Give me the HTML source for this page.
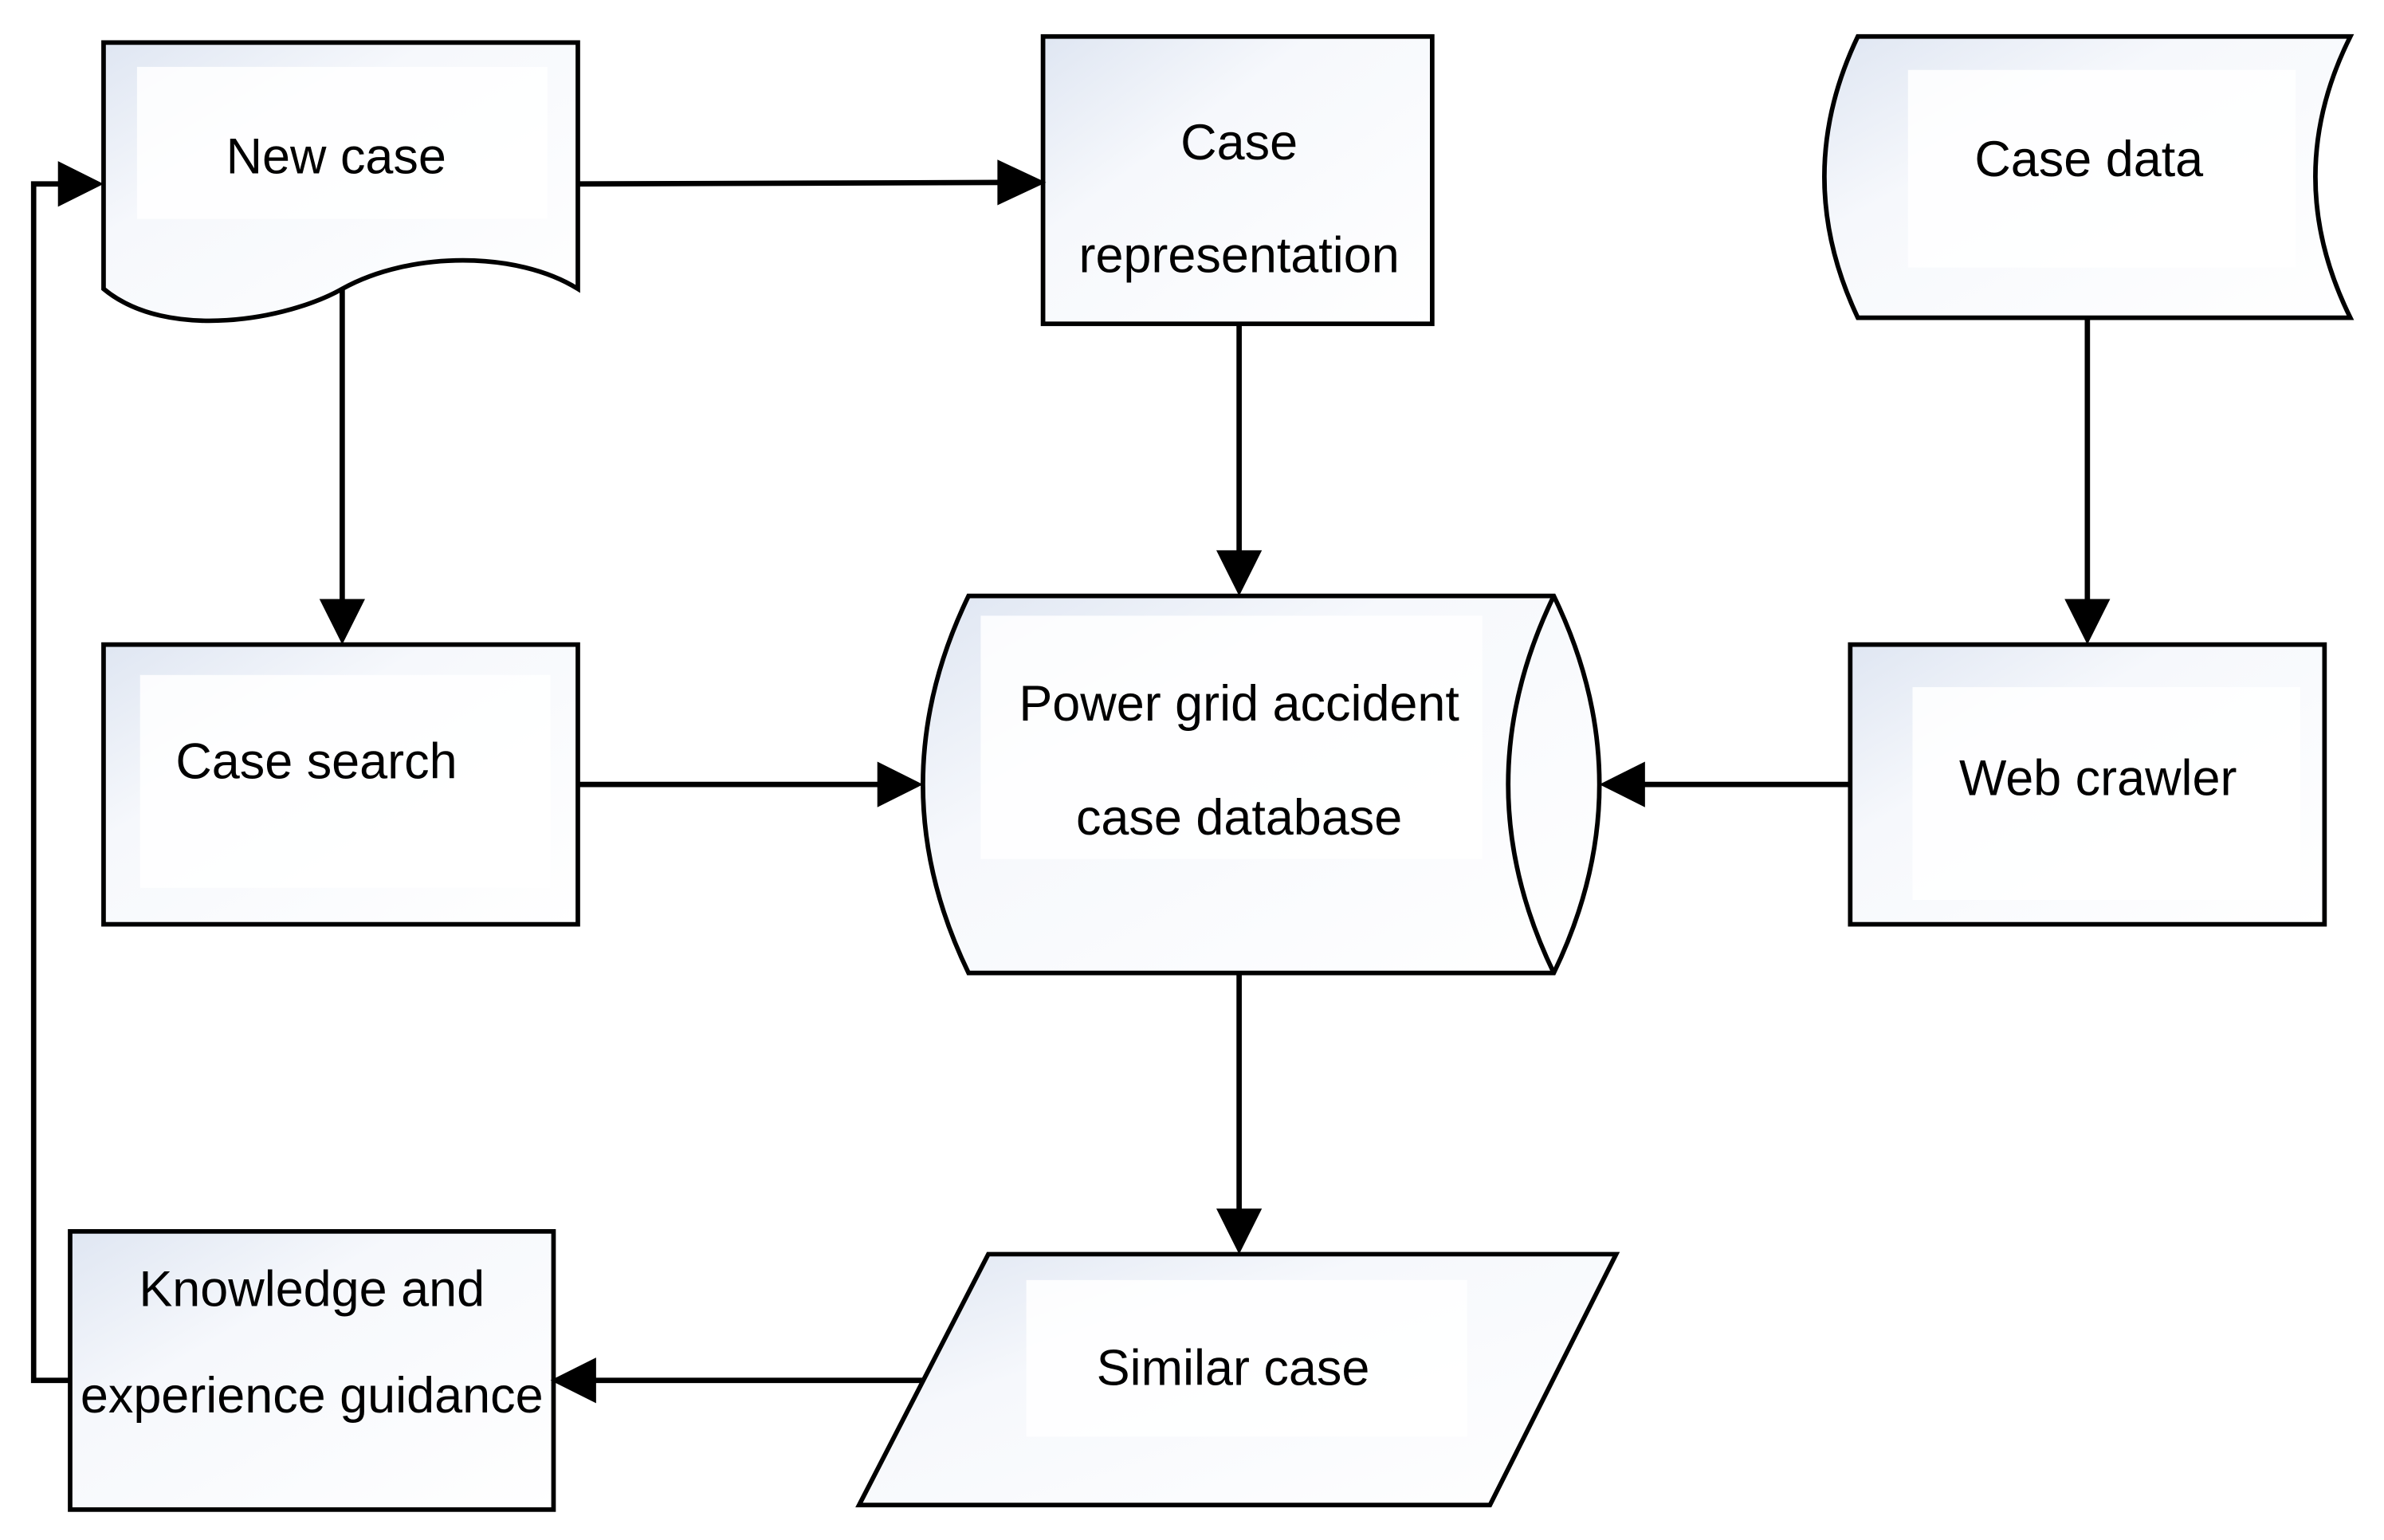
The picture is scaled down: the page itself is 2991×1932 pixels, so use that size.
<!DOCTYPE html>
<html><head><meta charset="utf-8"><style>html,body{margin:0;padding:0;background:#fff}svg{display:block}</style></head>
<body>
<svg width="2991" height="1932" viewBox="0 0 1568 1013" xmlns="http://www.w3.org/2000/svg">
<defs>
<linearGradient id="g" x1="0" y1="0" x2="1" y2="1">
<stop offset="0" stop-color="#dfe6f2"/><stop offset="0.35" stop-color="#f6f8fc"/><stop offset="1" stop-color="#ffffff"/>
</linearGradient>
</defs>
<g stroke="#000" stroke-width="3" fill="url(#g)">
<path d="M68,28 H380 V190 C340,165 270,165 225,190 C190,210 110,225 68,190 Z"/>
<rect x="686" y="24" width="256" height="189"/>
<path d="M1222,24 H1546 Q1500,116 1546,209 H1222 Q1178,116 1222,24 Z"/>
<rect x="68" y="424" width="312" height="184"/>
<path d="M637,392 H1022 Q1082,516 1022,640 H637 Q577,516 637,392 Z"/>
<path d="M1022,392 Q962,516 1022,640" fill="none"/>
<rect x="1217" y="424" width="312" height="184"/>
<path d="M650,825 H1063 L980,990 H565 Z"/>
<rect x="46" y="810" width="318" height="183"/>
</g>
<g fill="#fff" opacity="0.85">
<rect x="90" y="44" width="270" height="100"/>
<rect x="1255" y="46" width="255" height="130"/>
<rect x="92" y="444" width="270" height="140"/>
<rect x="645" y="405" width="330" height="160"/>
<rect x="1258" y="452" width="255" height="140"/>
<rect x="675" y="842" width="290" height="103"/>
</g>
<g stroke="#000" stroke-width="3.5" fill="none">
<path d="M380,121 L660,120"/>
<path d="M225,190 V396"/>
<path d="M815,213 V364"/>
<path d="M1373,209 V396"/>
<path d="M380,516 H580"/>
<path d="M1217,516 H1080"/>
<path d="M815,640 V797"/>
<path d="M607,908 H390"/>
<path d="M46,908 H22 V121 H42"/>
</g>
<g fill="#000">
<path d="M688,120 L656,105 L656,135 Z"/>
<path d="M225,424 L210,394 L240,394 Z"/>
<path d="M815,392 L800,362 L830,362 Z"/>
<path d="M1373,424 L1358,394 L1388,394 Z"/>
<path d="M607,516 L577,501 L577,531 Z"/>
<path d="M1052,516 L1082,501 L1082,531 Z"/>
<path d="M815,825 L800,795 L830,795 Z"/>
<path d="M362,908 L392,893 L392,923 Z"/>
<path d="M68,121 L38,106 L38,136 Z"/>
</g>
<g font-family="Liberation Sans, sans-serif" font-size="33" text-anchor="middle" fill="#000">
<text x="221" y="114">New case</text>
<text x="815" y="105">Case</text>
<text x="815" y="179">representation</text>
<text x="1374" y="116">Case data</text>
<text x="208" y="512">Case search</text>
<text x="815" y="474">Power grid accident</text>
<text x="815" y="549">case database</text>
<text x="1380" y="523">Web crawler</text>
<text x="811" y="911">Similar case</text>
<text x="205" y="859">Knowledge and</text>
<text x="205" y="929">experience guidance</text>
</g>
</svg>
</body></html>
